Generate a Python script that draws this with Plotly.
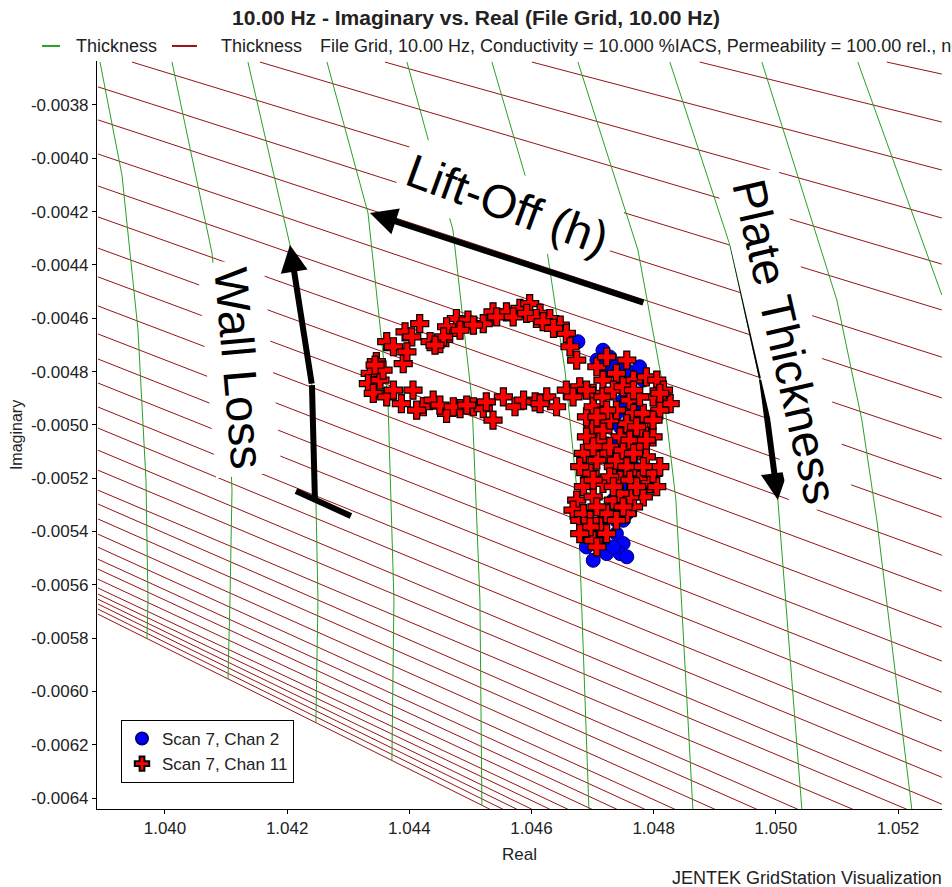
import plotly.graph_objects as go

# ---------------- data ----------------
x_ticks = [1.040, 1.042, 1.044, 1.046, 1.048, 1.050, 1.052]
x_tick_text = ["1.040", "1.042", "1.044", "1.046", "1.048", "1.050", "1.052"]
y_ticks = [-0.0038, -0.0040, -0.0042, -0.0044, -0.0046, -0.0048, -0.0050,
           -0.0052, -0.0054, -0.0056, -0.0058, -0.0060, -0.0062, -0.0064]
y_tick_text = ["-0.0038", "-0.0040", "-0.0042", "-0.0044", "-0.0046", "-0.0048", "-0.0050",
               "-0.0052", "-0.0054", "-0.0056", "-0.0058", "-0.0060", "-0.0062", "-0.0064"]

# Measurement grid, dark red family: polylines of (real, imag)
grid_red = [
    [(1.051817, -0.003639), (1.052717, -0.003684)],
    [(1.048756, -0.003639), (1.052717, -0.003864)],
    [(1.046007, -0.003639), (1.052717, -0.004044)],
    [(1.043601, -0.003639), (1.052717, -0.004224)],
    [(1.041555, -0.003639), (1.052717, -0.004397)],
    [(1.039460, -0.003639), (1.052717, -0.004569)],
    [(1.038903, -0.003732), (1.052717, -0.004746)],
    [(1.038903, -0.003856), (1.052717, -0.004899)],
    [(1.038903, -0.003984), (1.052717, -0.005053)],
    [(1.038903, -0.004104), (1.052717, -0.005203)],
    [(1.038903, -0.004220), (1.052717, -0.005346)],
    [(1.038903, -0.004337), (1.052717, -0.005489)],
    [(1.038903, -0.004445), (1.052717, -0.005624)],
    [(1.038903, -0.004554), (1.052717, -0.005759)],
    [(1.038903, -0.004659), (1.052717, -0.005886)],
    [(1.038903, -0.004753), (1.052717, -0.006003)],
    [(1.038903, -0.004843), (1.052717, -0.006111)],
    [(1.038903, -0.004933), (1.052717, -0.006224)],
    [(1.038903, -0.005012), (1.052717, -0.006322)],
    [(1.038903, -0.005095), (1.052717, -0.006423)],
    [(1.038903, -0.005170), (1.052144, -0.006442)],
    [(1.038903, -0.005245), (1.051260, -0.006442)],
    [(1.038903, -0.005297), (1.050360, -0.006442)],
    [(1.038903, -0.005353), (1.049689, -0.006442)],
    [(1.038903, -0.005410), (1.049002, -0.006442)],
    [(1.038903, -0.005459), (1.048347, -0.006442)],
    [(1.038903, -0.005504), (1.047856, -0.006442)],
    [(1.038903, -0.005541), (1.047398, -0.006442)],
    [(1.038903, -0.005579), (1.046989, -0.006442)],
    [(1.038903, -0.005612), (1.046596, -0.006442)],
    [(1.038903, -0.005635), (1.046301, -0.006442)],
    [(1.038903, -0.005654), (1.046007, -0.006442)],
    [(1.038903, -0.005672), (1.045761, -0.006442)],
    [(1.038903, -0.005691), (1.045532, -0.006442)],
    [(1.038903, -0.005710), (1.045319, -0.006442)],
]

# Measurement grid, green family: polylines of (real, imag)
grid_green = [
    [(1.038936, -0.003639), (1.039296, -0.004063), (1.039558, -0.004644), (1.039689, -0.005207),
     (1.039722, -0.005657), (1.039705, -0.005800)],
    [(1.040115, -0.003639), (1.040769, -0.004355), (1.041031, -0.004907), (1.041097, -0.005245),
     (1.041064, -0.005657), (1.041031, -0.005954)],
    [(1.041358, -0.003639), (1.042046, -0.004325), (1.042406, -0.004851), (1.042471, -0.005282),
     (1.042504, -0.005657), (1.042471, -0.006115)],
    [(1.042652, -0.003639), (1.043323, -0.004205), (1.043650, -0.004907), (1.043748, -0.005657),
     (1.043715, -0.006258)],
    [(1.043961, -0.003639), (1.044714, -0.004269), (1.045025, -0.004907), (1.045156, -0.005657),
     (1.045188, -0.006427)],
    [(1.045352, -0.003639), (1.046252, -0.004344), (1.046547, -0.004794), (1.046760, -0.005282),
     (1.046940, -0.006442)],
    [(1.046760, -0.003639), (1.047742, -0.004344), (1.048134, -0.004832), (1.048364, -0.005282),
     (1.048642, -0.006442)],
    [(1.048265, -0.003639), (1.049247, -0.004325), (1.049738, -0.004832), (1.050033, -0.005282),
     (1.050426, -0.006442)],
    [(1.049771, -0.003639), (1.050999, -0.004532), (1.051408, -0.004982), (1.051653, -0.005357),
     (1.052226, -0.006442)],
    [(1.051342, -0.003639), (1.052717, -0.004513)],
]

# Scan 7, Chan 2
chan2_real = [1.04676, 1.04717, 1.04707, 1.04728, 1.04739, 1.04756, 1.04772, 1.04761, 1.04756, 1.04767,
              1.04761, 1.04750, 1.04756, 1.04761, 1.04750, 1.04756, 1.04750, 1.04745, 1.04750, 1.04739,
              1.04750, 1.04745, 1.04756, 1.04723, 1.04701, 1.04690, 1.04696, 1.04712, 1.04723, 1.04734,
              1.04745, 1.04739, 1.04728, 1.04739, 1.04745, 1.04739, 1.04750, 1.04745, 1.04723, 1.04777,
              1.04783, 1.04767, 1.04772, 1.04761, 1.04767, 1.04761, 1.04756, 1.04739, 1.04734, 1.04717]
chan2_imag = [-0.004688, -0.004720, -0.004757, -0.004745, -0.004782, -0.004795, -0.004820, -0.004845, -0.004882, -0.004932,
              -0.004982, -0.005020, -0.005057, -0.005107, -0.005157, -0.005207, -0.005257, -0.005308, -0.005358, -0.005408,
              -0.005445, -0.005483, -0.005495, -0.005483, -0.005508, -0.005458, -0.005408, -0.005383, -0.005333, -0.005282,
              -0.005232, -0.005182, -0.005132, -0.005082, -0.005007, -0.004957, -0.004907, -0.004857, -0.004807, -0.004782,
              -0.004832, -0.004895, -0.004970, -0.005045, -0.005157, -0.005182, -0.005333, -0.005358, -0.005458, -0.005433]

# Scan 7, Chan 11
chan11_real = [
    1.04363, 1.04393, 1.04417, 1.04434, 1.04450, 1.04466, 1.04477, 1.04496, 1.04521, 1.04537,
    1.04559, 1.04581, 1.04597, 1.04614, 1.04630, 1.04647, 1.04657, 1.04663, 1.04674, 1.04461,
    1.04505, 1.04543, 1.04570, 1.04592, 1.04608, 1.04619, 1.04636, 1.04483, 1.04456, 1.04442,
    1.04404, 1.04374,
    1.04346, 1.04336, 1.04333, 1.04341, 1.04363, 1.04387, 1.04406, 1.04390, 1.04396, 1.04352,
    1.04357, 1.04374, 1.04344,
    1.04423, 1.04439, 1.04461, 1.04483, 1.04505, 1.04521, 1.04537, 1.04554, 1.04573, 1.04587,
    1.04606, 1.04625, 1.04641, 1.04657, 1.04679, 1.04701, 1.04717, 1.04412, 1.04450, 1.04472,
    1.04494, 1.04526, 1.04614, 1.04668, 1.04690,
    1.04707, 1.04723, 1.04756, 1.04739, 1.04767, 1.04788, 1.04805, 1.04816, 1.04827, 1.04810,
    1.04794, 1.04777, 1.04799, 1.04777, 1.04788, 1.04767, 1.04777, 1.04794, 1.04805, 1.04783,
    1.04767, 1.04756, 1.04761, 1.04745, 1.04734, 1.04723, 1.04712, 1.04701, 1.04690, 1.04701,
    1.04717, 1.04734, 1.04750, 1.04761, 1.04767, 1.04756, 1.04745, 1.04728, 1.04707, 1.04696,
    1.04685, 1.04674, 1.04668, 1.04679, 1.04690, 1.04701, 1.04712, 1.04723, 1.04734, 1.04745,
    1.04717, 1.04701, 1.04685, 1.04696, 1.04707, 1.04728, 1.04739, 1.04750, 1.04761, 1.04772,
    1.04783, 1.04799, 1.04810, 1.04777, 1.04767, 1.04799, 1.04788, 1.04767, 1.04756, 1.04761,
    1.04772, 1.04799, 1.04810, 1.04783, 1.04690, 1.04685, 1.04701, 1.04717, 1.04728, 1.04739,
    1.04723, 1.04707, 1.04679, 1.04701, 1.04734, 1.04750, 1.04739, 1.04723, 1.04707, 1.04696,
    1.04679,
]
chan11_imag = [
    -0.004688, -0.004651, -0.004620, -0.004688, -0.004695, -0.004657, -0.004601, -0.004607, -0.004620, -0.004576,
    -0.004576, -0.004563, -0.004545, -0.004582, -0.004601, -0.004626, -0.004657, -0.004707, -0.004757, -0.004632,
    -0.004626, -0.004595, -0.004595, -0.004582, -0.004601, -0.004613, -0.004638, -0.004645, -0.004670, -0.004701,
    -0.004670, -0.004707,
    -0.004763, -0.004807, -0.004845, -0.004882, -0.004895, -0.004920, -0.004870, -0.004770, -0.004726, -0.004832,
    -0.004795, -0.004870, -0.004776,
    -0.004932, -0.004907, -0.004957, -0.004939, -0.004932, -0.004939, -0.004982, -0.004895, -0.004932, -0.004907,
    -0.004914, -0.004895, -0.004932, -0.004870, -0.004857, -0.004882, -0.004832, -0.004945, -0.004926, -0.004932,
    -0.004926, -0.004914, -0.004920, -0.004895, -0.004870,
    -0.004782, -0.004745, -0.004757, -0.004807, -0.004832, -0.004820, -0.004832, -0.004870, -0.004920, -0.004945,
    -0.004982, -0.005020, -0.005045, -0.005082, -0.005120, -0.005157, -0.005207, -0.005220, -0.005232, -0.005270,
    -0.005308, -0.005333, -0.005270, -0.005207, -0.005157, -0.005107, -0.005057, -0.005007, -0.004970, -0.004932,
    -0.004895, -0.004870, -0.004857, -0.004907, -0.004957, -0.004995, -0.005045, -0.005082, -0.005132, -0.005182,
    -0.005232, -0.005282, -0.005320, -0.005358, -0.005408, -0.005433, -0.005383, -0.005333, -0.005282, -0.005257,
    -0.005220, -0.005270, -0.005333, -0.005358, -0.005308, -0.005195, -0.005132, -0.005095, -0.005057, -0.005007,
    -0.004957, -0.004895, -0.004882, -0.004895, -0.004870, -0.004982, -0.005057, -0.005107, -0.005157, -0.005207,
    -0.005232, -0.005182, -0.005157, -0.005157, -0.005045, -0.005107, -0.005082, -0.005020, -0.004982, -0.004945,
    -0.004945, -0.004970, -0.005157, -0.005207, -0.005232, -0.005308, -0.005358, -0.005408, -0.005458, -0.005383,
    -0.005408,
]

x_range = [1.038887, 1.05272]
y_range = [-0.006441, -0.003635]

GREEN = "rgb(40,160,40)"
DARK_RED = "rgb(150,20,20)"
FONT = "Liberation Sans, Arial, sans-serif"
TEXT = "#222"

fig = go.Figure()

for line in grid_red:
    fig.add_trace(go.Scatter(
        x=[p[0] for p in line], y=[p[1] for p in line], mode="lines",
        line=dict(color=DARK_RED, width=1), showlegend=False, hoverinfo="skip"))

for line in grid_green:
    fig.add_trace(go.Scatter(
        x=[p[0] for p in line], y=[p[1] for p in line], mode="lines",
        line=dict(color=GREEN, width=1), showlegend=False, hoverinfo="skip"))

fig.add_trace(go.Scatter(
    x=chan2_real, y=chan2_imag, mode="markers", name="Scan 7, Chan 2",
    marker=dict(symbol="circle", size=14, color="rgb(0,0,255)",
                line=dict(color="rgb(0,0,110)", width=1))))
fig.add_trace(go.Scatter(
    x=chan11_real, y=chan11_imag, mode="markers", name="Scan 7, Chan 11",
    marker=dict(symbol="cross", size=15, color="rgb(255,0,0)",
                line=dict(color="black", width=1.2))))

# ---------- annotation arrows ----------
ARROW_W = 6
# Lift-off arrow
fig.add_annotation(x=1.043355, y=-0.004205, ax=1.047856, ay=-0.004543,
                   xref="x", yref="y", axref="x", ayref="y", text="",
                   showarrow=True, arrowhead=2, arrowsize=0.9, arrowwidth=ARROW_W, arrowcolor="black")
# Plate thickness arrow
fig.add_shape(type="line", x0=1.049296, y0=-0.004325, x1=1.049771, y1=-0.004824,
              line=dict(color="black", width=ARROW_W))
fig.add_annotation(x=1.050033, y=-0.005282, ax=1.049771, ay=-0.004824,
                   xref="x", yref="y", axref="x", ayref="y", text="",
                   showarrow=True, arrowhead=2, arrowsize=0.9, arrowwidth=ARROW_W, arrowcolor="black")
# Wall loss arrow
fig.add_shape(type="line", x0=1.042455, y0=-0.005282, x1=1.042406, y1=-0.004851,
              line=dict(color="black", width=ARROW_W))
fig.add_annotation(x=1.042046, y=-0.004325, ax=1.042406, ay=-0.004851,
                   xref="x", yref="y", axref="x", ayref="y", text="",
                   showarrow=True, arrowhead=2, arrowsize=0.9, arrowwidth=ARROW_W, arrowcolor="black")
fig.add_shape(type="line", x0=1.042144, y0=-0.005248, x1=1.043044, y1=-0.005342,
              line=dict(color="black", width=ARROW_W))

# ---------- big labels (white boxes hide the grid behind them) ----------
BIG = dict(family=FONT, size=47, color="black")
fig.add_annotation(x=1.045614, y=-0.004175, text="Lift-Off (h)", showarrow=False,
                   textangle=20, font=BIG, bgcolor="white", borderpad=6, xref="x", yref="y")
fig.add_annotation(x=1.050148, y=-0.004689, text="Plate Thickness", showarrow=False,
                   textangle=77, font=BIG, bgcolor="white", borderpad=5, xref="x", yref="y")
fig.add_annotation(x=1.041227, y=-0.004787, text="Wall Loss", showarrow=False,
                   textangle=85, font=BIG, bgcolor="white", borderpad=6, xref="x", yref="y")

# ---------- top legend row ----------
TOP_Y = 1.0201
fig.add_shape(type="line", xref="paper", yref="paper", x0=-0.0651, x1=-0.0438, y0=TOP_Y, y1=TOP_Y,
              line=dict(color=GREEN, width=2))
fig.add_shape(type="line", xref="paper", yref="paper", x0=0.0888, x1=0.1183, y0=TOP_Y, y1=TOP_Y,
              line=dict(color=DARK_RED, width=2))
small = dict(family=FONT, size=18, color=TEXT)
fig.add_annotation(xref="paper", yref="paper", x=-0.0272, y=TOP_Y, text="Thickness",
                   showarrow=False, xanchor="left", yanchor="middle", font=small)
fig.add_annotation(xref="paper", yref="paper", x=0.1444, y=TOP_Y, text="Thickness",
                   showarrow=False, xanchor="left", yanchor="middle", font=small)
fig.add_annotation(xref="paper", yref="paper", x=0.2615, y=TOP_Y,
                   text="File Grid, 10.00 Hz, Conductivity = 10.000 %IACS, Permeability = 100.00 rel., no",
                   showarrow=False, xanchor="left", yanchor="middle", font=small)

# footer
fig.add_annotation(xref="paper", yref="paper", x=1.0024, y=-0.0922, text="JENTEK GridStation Visualization",
                   showarrow=False, xanchor="right", yanchor="middle", font=dict(family=FONT, size=18, color=TEXT))

fig.update_layout(
    width=952, height=887,
    margin=dict(l=97, r=10, t=61, b=78),
    paper_bgcolor="white", plot_bgcolor="white",
    font=dict(family=FONT, size=17, color=TEXT),
    title=dict(text="<b>10.00 Hz - Imaginary vs. Real (File Grid, 10.00 Hz)</b>",
               x=0.5, xref="container", y=1 - 18 / 887, yref="container",
               xanchor="center", yanchor="middle", font=dict(family=FONT, size=21, color=TEXT)),
    showlegend=True,
    legend=dict(x=0.0284, y=0.0348, xanchor="left", yanchor="bottom",
                bordercolor="black", borderwidth=1, bgcolor="white",
                font=dict(family=FONT, size=17, color=TEXT), itemsizing="constant",
                tracegroupgap=0),
)
fig.update_xaxes(range=x_range, tickvals=x_ticks, ticktext=x_tick_text, ticks="outside", ticklen=4,
                 tickcolor="black", showline=True, linecolor="black", linewidth=1, showgrid=False,
                 zeroline=False, title=dict(text="Real", standoff=10, font=dict(size=17)),
                 tickfont=dict(family=FONT, size=17, color=TEXT))
fig.update_yaxes(range=y_range, tickvals=y_ticks, ticktext=y_tick_text, ticks="outside", ticklen=4,
                 tickcolor="black", showline=True, linecolor="black", linewidth=1, showgrid=False,
                 zeroline=False, title=dict(text="Imaginary", standoff=4, font=dict(size=16)),
                 tickfont=dict(family=FONT, size=17, color=TEXT))

fig.write_html("out.html")
